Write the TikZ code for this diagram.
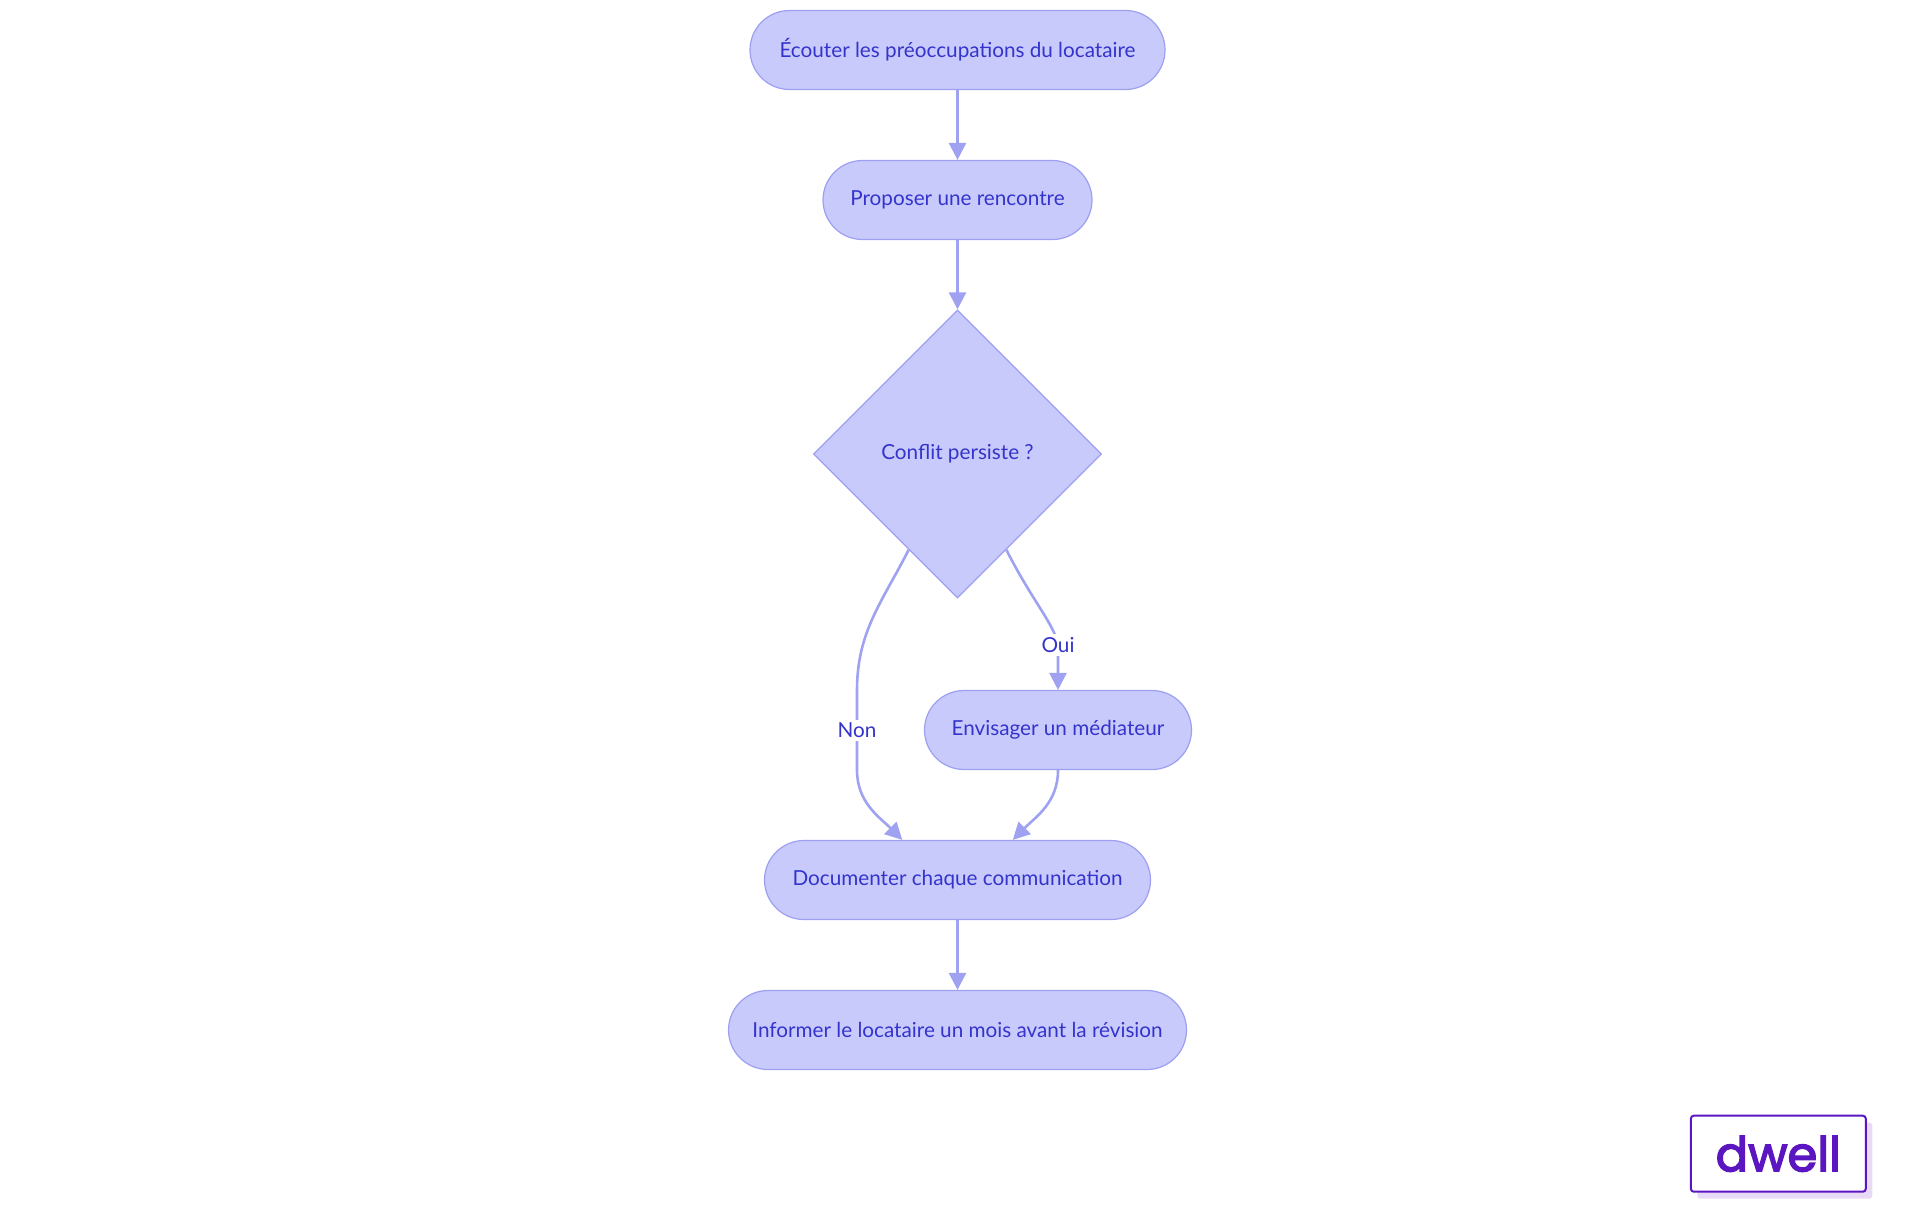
\documentclass[tikz,border=0pt]{standalone}
\usepackage{fontspec}
\setmainfont{Lato}
\newfontfamily\logofont[FakeBold=3]{Poppins}
\usetikzlibrary{shapes,arrows.meta,shadows}
\definecolor{boxfill}{HTML}{C9CAFC}
\definecolor{boxline}{HTML}{9D9FF0}
\definecolor{boxtext}{HTML}{3434CC}
\definecolor{edgeline}{HTML}{9FA1F1}
\definecolor{logopurple}{HTML}{5C16C1}
\definecolor{logoshadow}{HTML}{E8DAF6}
\tikzstyle{stepblock} = [rectangle, rounded corners=19.75pt, minimum height=39.5pt, text centered, draw=boxline, fill=boxfill, text=boxtext, line width=0.6pt, font=\fontsize{10.35}{12}\selectfont]
\tikzstyle{decision} = [diamond, aspect=1, minimum width=144pt, minimum height=144pt, inner sep=0pt, text centered, draw=boxline, fill=boxfill, text=boxtext, line width=0.6pt, font=\fontsize{10.35}{12}\selectfont]
\tikzstyle{arrow} = [line width=1.3pt, draw=edgeline, -{Triangle[length=8.5pt,width=8.5pt]}]
\tikzstyle{edgelabel} = [fill=white, text=boxtext, inner sep=1.5pt, font=\fontsize{10.35}{12}\selectfont]
\tikzstyle{logobox} = [rectangle, rounded corners=1.5pt, minimum width=87.5pt, minimum height=38pt, draw=logopurple, line width=1pt, fill=white, text=logopurple, drop shadow={shadow xshift=3.25pt, shadow yshift=-3.5pt, fill=logoshadow, opacity=1}, font=\logofont\fontsize{24}{28}\selectfont]

\begin{document}
\begin{tikzpicture}[x=0.5pt, y=-0.5pt, node distance=75pt]
        \useasboundingbox (0,0) rectangle (1920,1215);
        \node (ecouter) [stepblock, minimum width=207.5pt] at (957.5,50) {Écouter les préoccupations du locataire};
        \node (proposer) [stepblock, minimum width=134.5pt, below of=ecouter] {Proposer une rencontre};
        \node (conflit) [decision, below of=proposer, node distance=127pt] {Conflit persiste ?};
        \node (envisager) [stepblock, minimum width=133.5pt, below of=conflit, node distance=138pt, xshift=50.25pt] {Envisager un médiateur};
        \node (documenter) [stepblock, minimum width=193pt, below of=conflit, node distance=213pt] {Documenter chaque communication};
        \node (informer) [stepblock, minimum width=229pt, below of=documenter] {Informer le locataire un mois avant la révision};
        \coordinate (ouibend) at (1058,645);
        \coordinate (nontop) at (857,690);
        \coordinate (nonbottom) at (857,770);

        \draw [arrow] (conflit.297) to[out=297, in=100, out looseness=1.4, in looseness=0.5] (ouibend) node[edgelabel] {Oui} -- (envisager.north);
        \draw [arrow] (ecouter) -- (proposer);
        \draw [arrow] (proposer) -- (conflit);
        \draw [arrow] (conflit.243) to[out=243, in=90] (nontop) -- node[edgelabel] {Non} (nonbottom) to[out=-90, in=135] (documenter.144);
        \draw [arrow] (envisager.south) to[out=-90, in=45] (documenter.36);
        \draw [arrow] (documenter) -- (informer);

        \node (logo) [logobox] at (1778.3,1153.7) {dwell};
    \end{tikzpicture}
\end{document}
